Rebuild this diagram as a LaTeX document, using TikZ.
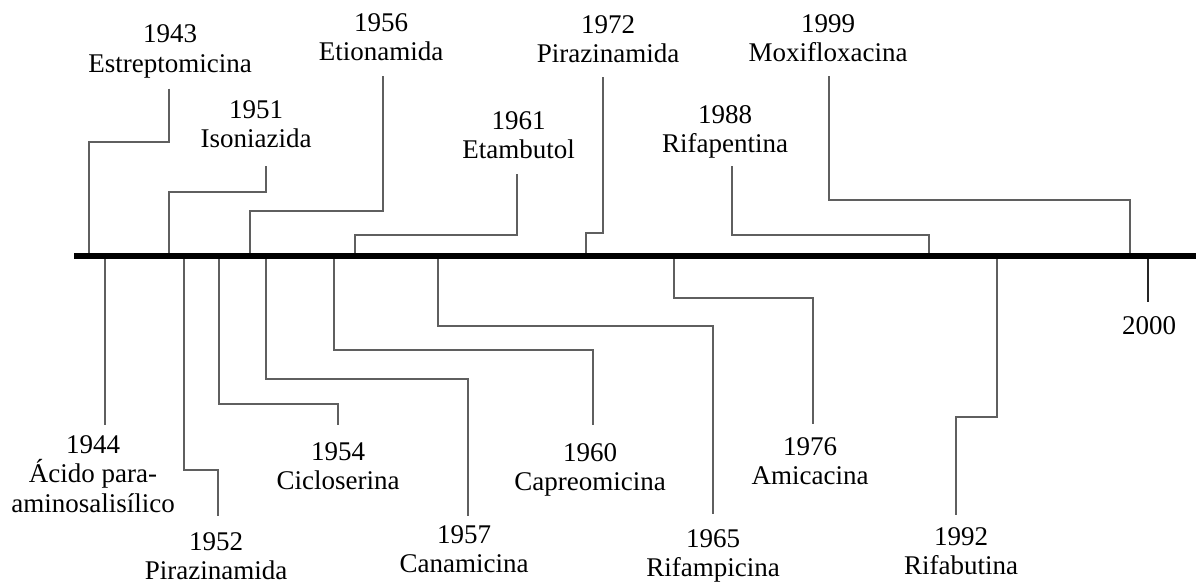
\documentclass[tikz,border=0pt]{standalone}
\usepackage{fontspec}
\setmainfont{Liberation Serif}
\definecolor{linegray}{RGB}{95,95,95}
\begin{document}
\begin{tikzpicture}[x=1pt,y=-1pt,
  lab/.style={align=center,inner sep=0pt,text depth=0pt,font=\fontsize{27}{29.7}\selectfont},
  conn/.style={line width=1.8pt,draw=linegray},
  tick/.style={line width=1.1pt,draw=black!85},
  axisline/.style={line width=5.5pt,draw=black}]
\useasboundingbox (0,0) rectangle (1196,584);
% axis end points
\coordinate (ax0) at (74,256);
\coordinate (ax1) at (1196,256);
% axis attachment points (top)
\coordinate (a43) at (89,256);
\coordinate (a51) at (169,256);
\coordinate (a56) at (250,256);
\coordinate (a61) at (355,256);
\coordinate (a72) at (586,256);
\coordinate (a88) at (929,256);
\coordinate (a99) at (1130,256);
% axis attachment points (bottom)
\coordinate (a44) at (105,256);
\coordinate (a52) at (184,256);
\coordinate (a54) at (219,256);
\coordinate (a57) at (266,256);
\coordinate (a60) at (334,256);
\coordinate (a65) at (438,256);
\coordinate (a76) at (674,256);
\coordinate (a92) at (997,256);
\coordinate (a00) at (1148,256);
% top labels (anchor: last baseline)
\node[lab,anchor=south] (l43) at (170,72.7) {1943\\Estreptomicina};
\node[lab,anchor=south] (l51) at (256,148) {1951\\Isoniazida};
\node[lab,anchor=south] (l56) at (381,61) {1956\\Etionamida};
\node[lab,anchor=south] (l61) at (518.5,159) {1961\\Etambutol};
\node[lab,anchor=south] (l72) at (608,63) {1972\\Pirazinamida};
\node[lab,anchor=south] (l88) at (725,153) {1988\\Rifapentina};
\node[lab,anchor=south] (l99) at (828,62) {1999\\Moxifloxacina};
% bottom labels (anchor: top of first line)
\node[lab,anchor=north] (l44) at (93,435) {1944\\Ácido para-\\aminosalisílico};
\node[lab,anchor=north] (l52) at (216,532) {1952\\Pirazinamida};
\node[lab,anchor=north] (l54) at (338,442) {1954\\Cicloserina};
\node[lab,anchor=north] (l57) at (464,525) {1957\\Canamicina};
\node[lab,anchor=north] (l60) at (590,443) {1960\\Capreomicina};
\node[lab,anchor=north] (l65) at (713,529) {1965\\Rifampicina};
\node[lab,anchor=north] (l76) at (810,437) {1976\\Amicacina};
\node[lab,anchor=north] (l92) at (961,527) {1992\\Rifabutina};
\node[lab,anchor=north] (l00) at (1149,316) {2000};
% top connectors
\draw[conn] ([xshift=-1pt,yshift=-16pt]l43.south) -- ++(0,53) -| (a43);
\draw[conn] ([xshift=10pt,yshift=-18pt]l51.south) -- ++(0,26) -| (a51);
\draw[conn] ([xshift=2pt,yshift=-15pt]l56.south) -- ++(0,135) -| (a56);
\draw[conn] ([xshift=-1.5pt,yshift=-15pt]l61.south) -- ++(0,61) -| (a61);
\draw[conn] ([xshift=-5pt,yshift=-14pt]l72.south) -- ++(0,156) -| (a72);
\draw[conn] ([xshift=7pt,yshift=-13pt]l88.south) -- ++(0,69) -| (a88);
\draw[conn] ([xshift=1pt,yshift=-14pt]l99.south) -- ++(0,124) -| (a99);
% bottom connectors
\draw[conn] (a44) -- ([xshift=12pt,yshift=10pt]l44.north);
\draw[conn] (a52) -- ++(0,214) -| ([xshift=2pt,yshift=16pt]l52.north);
\draw[conn] (a54) -- ++(0,148) -| ([yshift=17pt]l54.north);
\draw[conn] (a57) -- ++(0,123) -| ([xshift=4pt,yshift=9pt]l57.north);
\draw[conn] (a60) -- ++(0,94) -| ([xshift=3pt,yshift=18pt]l60.north);
\draw[conn] (a65) -- ++(0,70) -| ([yshift=15pt]l65.north);
\draw[conn] (a76) -- ++(0,42) -| ([xshift=3pt,yshift=13pt]l76.north);
\draw[conn] (a92) -- ++(0,161) -| ([xshift=-5pt,yshift=12pt]l92.north);
\draw[tick] (a00) -- ([xshift=-1pt,yshift=14pt]l00.north);
% axis
\draw[axisline] (ax0) -- (ax1);
\end{tikzpicture}
\end{document}
